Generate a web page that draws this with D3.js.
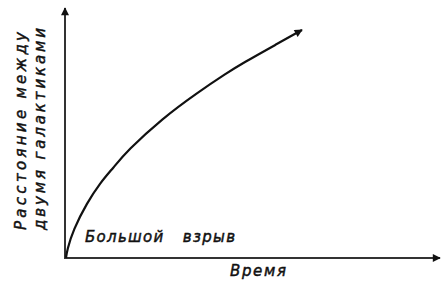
<!DOCTYPE html>
<html lang="ru">
<head>
    <meta charset="UTF-8">
    <title>Большой взрыв</title>
    <script src="https://d3js.org/d3.v7.min.js"></script>
    <style>
        body { margin: 0; background: #fff; }
        text { font-family: "DejaVu Sans", sans-serif; font-style: italic; fill: #111; stroke: #111; stroke-width: 0.45px; }
    </style>
</head>
<body>
    <svg width="442" height="281"></svg>
    <script>
        // Curve (arbitrary units, 0..100 on both axes)
        const time = [0, 0.3, 1.9, 5.6, 9.1, 12.6, 16.3, 25.9, 35, 43, 47.3, 56.4, 63.1];
        const distance = [0, 3.2, 11.2, 22, 30, 36, 42.8, 56, 66, 74, 78, 85.6, 91.2];

        const xLabel = "Время";
        const yLabels = ["Расстояние между", "двумя галактиками"];
        const noteLabel = "Большой   взрыв";

        const svg = d3.select("svg");

        const x = d3.scaleLinear().domain([0, 100]).range([66, 440]);
        const y = d3.scaleLinear().domain([0, 100]).range([258, 8]);

        // arrow heads
        const defs = svg.append("defs");
        defs.append("marker")
            .attr("id", "arrow")
            .attr("viewBox", "0 0 10 10")
            .attr("refX", 9).attr("refY", 5)
            .attr("markerWidth", 10).attr("markerHeight", 8)
            .attr("markerUnits", "userSpaceOnUse")
            .attr("orient", "auto")
            .append("path")
            .attr("d", "M0,0 L10,5 L0,10 Z")
            .attr("fill", "#111");

        // axes: plain lines with arrows, no ticks
        svg.append("line")
            .attr("x1", x(0)).attr("y1", y(0))
            .attr("x2", x(100)).attr("y2", y(0))
            .attr("stroke", "#333").attr("stroke-width", 2)
            .attr("marker-end", "url(#arrow)");

        svg.append("line")
            .attr("x1", x(0) - 1).attr("y1", y(0) + 1)
            .attr("x2", x(0) - 1).attr("y2", y(100))
            .attr("stroke", "#333").attr("stroke-width", 2)
            .attr("marker-end", "url(#arrow)");

        const points = time.map((t, i) => [t, distance[i]]);

        const line = d3.line()
            .x(d => x(d[0]))
            .y(d => y(d[1]))
            .curve(d3.curveBasis);

        svg.append("path")
            .datum(points)
            .attr("d", line)
            .attr("fill", "none")
            .attr("stroke", "#111")
            .attr("stroke-width", 2.2)
            .attr("marker-end", "url(#arrow)");

        // labels
        svg.append("text")
            .attr("x", 85).attr("y", 242)
            .attr("font-size", 15)
            .attr("textLength", 150)
            .attr("lengthAdjust", "spacing")
            .style("white-space", "pre")
            .text(noteLabel);

        svg.append("text")
            .attr("x", 230).attr("y", 276)
            .attr("font-size", 15)
            .attr("textLength", 56)
            .attr("lengthAdjust", "spacing")
            .text(xLabel);

        const yl = [{ x: 26, len: 198 }, { x: 45, len: 202 }];
        yLabels.forEach((s, i) => {
            svg.append("text")
                .attr("transform", `translate(${yl[i].x},230) rotate(-90)`)
                .attr("font-size", 15)
                .attr("textLength", yl[i].len)
                .attr("lengthAdjust", "spacing")
                .text(s);
        });
    </script>
</body>
</html>
